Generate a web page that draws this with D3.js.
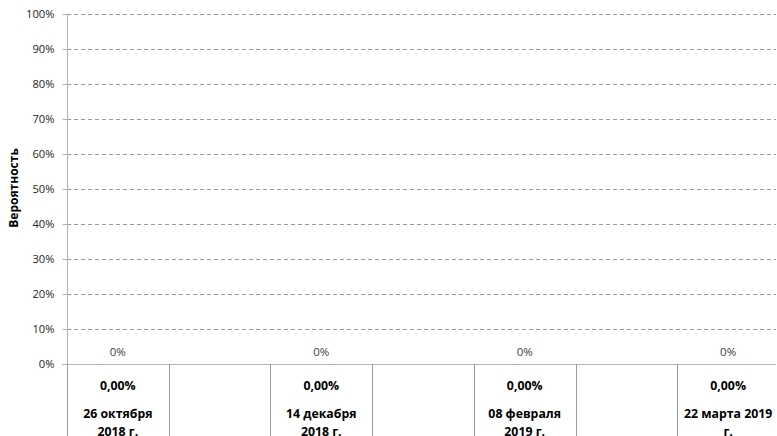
<!DOCTYPE html>
<html>
<head>
<meta charset="utf-8">
<script src="https://cdn.jsdelivr.net/npm/d3@7"></script>
<style>
  html, body { margin: 0; padding: 0; background: #fff; }
  svg { display: block; font-family: "Open Sans", "Noto Sans", sans-serif; }
</style>
</head>
<body>
<svg id="chart" width="777" height="436"></svg>
<script>
// ---- data ----
const categories = ["26 октября 2018 г.", "", "14 декабря 2018 г.", "", "08 февраля 2019 г.", "", "22 марта 2019 г."];
const values = [0, null, 0, null, 0, null, 0];
const tableValues = ["0,00%", "", "0,00%", "", "0,00%", "", "0,00%"];
const yTicks = [0, 0.1, 0.2, 0.3, 0.4, 0.5, 0.6, 0.7, 0.8, 0.9, 1.0];
const yTitle = "Вероятность";

// ---- layout ----
const svg = d3.select("#chart");
const mLeft = 67, mRight = 779, mTop = 14, mBottom = 364, gridEnd = 776;

const x = d3.scaleBand().domain(d3.range(categories.length)).range([mLeft, mRight]).padding(0);
const y = d3.scaleLinear().domain([0, 1]).range([mBottom, mTop]);

// gridlines
svg.append("g").selectAll("line").data(yTicks.filter(d => d > 0)).join("line")
  .attr("x1", mLeft).attr("x2", gridEnd)
  .attr("y1", d => Math.round(y(d)) + 0.5).attr("y2", d => Math.round(y(d)) + 0.5)
  .attr("stroke", "#9a9a9a").attr("stroke-width", 1).attr("stroke-dasharray", "4,3");

// y axis
const yAxis = d3.axisLeft(y).tickValues(yTicks).tickFormat(d3.format(".0%")).tickSize(5).tickPadding(8);
const gy = svg.append("g").attr("transform", `translate(${mLeft + 0.5},0)`).call(yAxis);
gy.select(".domain").attr("stroke", "#b0b0b0").attr("d", `M0,${mTop}V${mBottom}`);
gy.selectAll(".tick line").attr("stroke", "#b0b0b0");
gy.selectAll(".tick text").attr("fill", "#262626").style("font-size", "11.2px").style("font-family", '"Open Sans", sans-serif');

// zero (category) axis line
svg.append("line").attr("x1", mLeft - 5).attr("x2", gridEnd)
  .attr("y1", mBottom + 0.5).attr("y2", mBottom + 0.5)
  .attr("stroke", "#b0b0b0").attr("stroke-width", 1);

// vertical separators of the category/table area
const seps = d3.range(categories.length).map(i => x(i));
svg.append("g").selectAll("line").data(seps).join("line")
  .attr("x1", d => Math.round(d) + 0.5).attr("x2", d => Math.round(d) + 0.5)
  .attr("y1", mBottom).attr("y2", 436)
  .attr("stroke", "#9a9a9a").attr("stroke-width", 1);

// bars (zero height)
const idx = d3.range(categories.length).filter(i => values[i] !== null);
svg.append("g").selectAll("rect").data(idx).join("rect")
  .attr("x", i => x(i) + x.bandwidth() * 0.25)
  .attr("width", x.bandwidth() * 0.5)
  .attr("y", i => y(values[i]))
  .attr("height", i => y(0) - y(values[i]))
  .attr("fill", "#4f81bd");

// value labels
svg.append("g").selectAll("text").data(idx).join("text")
  .attr("x", i => x(i) + x.bandwidth() / 2)
  .attr("y", i => y(values[i]) - 8.5)
  .attr("text-anchor", "middle")
  .style("font-size", "11.5px").attr("fill", "#404040")
  .text(i => d3.format(".0%")(values[i]));

// table values (bold)
svg.append("g").selectAll("text").data(idx).join("text")
  .attr("x", i => x(i) + x.bandwidth() / 2)
  .attr("y", 389.5)
  .attr("text-anchor", "middle")
  .style("font-size", "12.3px").style("font-weight", "bold").attr("fill", "#000")
  .text(i => tableValues[i]);

// category labels (bold, wrapped)
const catG = svg.append("g");
idx.forEach(i => {
  const cx = x(i) + x.bandwidth() / 2;
  const t = catG.append("text")
    .attr("x", cx)
    .attr("y", 418)
    .attr("text-anchor", "middle")
    .style("font-size", "12.3px").style("font-weight", "bold").attr("fill", "#000");
  const words = categories[i].split(" ");
  let line = [];
  let tspan = t.append("tspan").attr("x", cx).attr("dy", 0);
  words.forEach(w => {
    line.push(w);
    tspan.text(line.join(" "));
    if (tspan.node().getComputedTextLength() > 96 && line.length > 1) {
      line.pop();
      tspan.text(line.join(" "));
      line = [w];
      tspan = t.append("tspan").attr("x", cx).attr("dy", 18).text(w);
    }
  });
});

// y title
svg.append("text")
  .attr("transform", `translate(17.5,188) rotate(-90)`)
  .attr("text-anchor", "middle")
  .style("font-size", "12px").style("font-weight", "bold").attr("fill", "#000")
  .text(yTitle);
</script>
</body>
</html>
